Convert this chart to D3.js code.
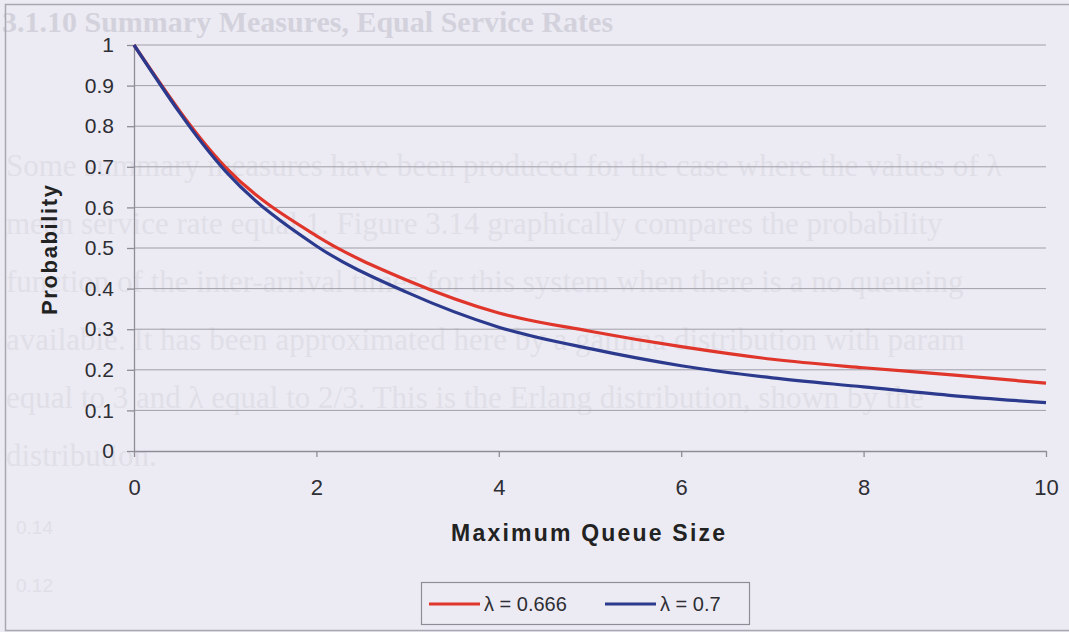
<!DOCTYPE html>
<html>
<head>
<meta charset="utf-8">
<script src="https://cdn.jsdelivr.net/npm/d3@7"></script>
<style>
  html, body { margin: 0; padding: 0; background: #ecebf3; }
  svg { display: block; }
</style>
</head>
<body>
<svg id="chart" width="1069" height="632"></svg>
<script>
// data
const queueSize = [0, 1, 2, 3, 4, 5, 6, 7, 8, 9, 10]
const probA = [1, 0.70, 0.53, 0.42, 0.34, 0.295, 0.257, 0.226, 0.205, 0.187, 0.167] // λ = 0.666
const probB = [1, 0.69, 0.505, 0.39, 0.305, 0.252, 0.21, 0.18, 0.158, 0.136, 0.119] // λ = 0.7
const xTicks = [0, 2, 4, 6, 8, 10]
const yTicks = [0, 0.1, 0.2, 0.3, 0.4, 0.5, 0.6, 0.7, 0.8, 0.9, 1]
const seriesNames = ['λ = 0.666', 'λ = 0.7']

// scanned page text showing through behind the chart
const pageLines = [
  'Some summary measures have been produced for the case where the values of λ',
  'mean service rate equal 1. Figure 3.14 graphically compares the probability',
  'function of the inter-arrival times for this system when there is a no queueing',
  'available. It has been approximated here by a gamma distribution with param',
  'equal to 3 and λ equal to 2/3. This is the Erlang distribution, shown by the',
  'distribution.'
]

const svg = d3.select('#chart')
const W = 1069, H = 632

svg.append('rect').attr('width', W).attr('height', H).attr('fill', '#ecebf3')

// faint bleed-through
svg.append('text')
  .attr('x', 2).attr('y', 32)
  .text('3.1.10 Summary Measures, Equal Service Rates')
  .style('font-family', '"Liberation Serif", serif')
  .style('font-size', '30px')
  .style('font-weight', 'bold')
  .style('fill', '#d3d2dc')

svg.append('g').selectAll('text')
  .data(pageLines)
  .join('text')
  .attr('x', 6)
  .attr('y', (d, i) => 176 + i * 58)
  .text(d => d)
  .style('font-family', '"Liberation Serif", serif')
  .style('font-size', '31px')
  .style('fill', '#e0dfe8')

svg.append('g').selectAll('text')
  .data(['0.14', '0.12'])
  .join('text')
  .attr('x', 16)
  .attr('y', (d, i) => 534 + i * 58)
  .text(d => d)
  .style('font-family', '"Liberation Sans", Arial, sans-serif')
  .style('font-size', '19px')
  .style('fill', '#e0dfe8')

// chart border
svg.append('rect')
  .attr('x', 5.5).attr('y', 4.5)
  .attr('width', W).attr('height', 626)
  .attr('fill', 'none')
  .attr('stroke', '#a9a8b2')
  .attr('stroke-width', 1.5)

const xScale = d3.scaleLinear().domain([0, 10]).range([134, 1046])
const yScale = d3.scaleLinear().domain([0, 1]).range([451, 45])

// gridlines
svg.append('g').selectAll('line')
  .data(yTicks.filter(d => d > 0))
  .join('line')
  .attr('x1', xScale(0)).attr('x2', xScale(10))
  .attr('y1', d => yScale(d)).attr('y2', d => yScale(d))
  .attr('stroke', '#a09fa9')
  .attr('stroke-width', 1)

const xAxis = d3.axisBottom(xScale).tickValues(xTicks).tickSize(6).tickPadding(22).tickSizeOuter(0)
const yAxis = d3.axisLeft(yScale).tickValues(yTicks).tickSize(7).tickPadding(13).tickSizeOuter(0)
  .tickFormat(d => d === 0 || d === 1 ? d : d3.format('.1f')(d))

const gx = svg.append('g')
  .attr('transform', `translate(0, ${yScale(0)})`)
  .call(xAxis)
const gy = svg.append('g')
  .attr('transform', `translate(${xScale(0)}, 0)`)
  .call(yAxis)

for (const g of [gx, gy]) {
  g.select('.domain').attr('stroke', '#8e8d97').attr('stroke-width', 1.3)
  g.selectAll('.tick line').attr('stroke', '#8e8d97').attr('stroke-width', 1.3)
  g.selectAll('text')
    .style('font-family', '"Liberation Sans", Arial, sans-serif')
    .style('fill', '#2e2e34')
}
gx.selectAll('text').style('font-size', '22px')
gy.selectAll('text').style('font-size', '21px')

// axis titles
svg.append('text')
  .attr('x', 588).attr('y', 541)
  .attr('text-anchor', 'middle')
  .attr('textLength', 274)
  .text('Maximum Queue Size')
  .style('font-family', '"Liberation Sans", Arial, sans-serif')
  .style('font-size', '23px')
  .style('font-weight', 'bold')
  .style('fill', '#222')

svg.append('text')
  .attr('transform', 'translate(57, 250) rotate(-90)')
  .attr('text-anchor', 'middle')
  .attr('textLength', 130)
  .text('Probability')
  .style('font-family', '"Liberation Sans", Arial, sans-serif')
  .style('font-size', '22px')
  .style('font-weight', 'bold')
  .style('fill', '#222')

// lines
const line = d3.line()
  .x(d => xScale(d[0]))
  .y(d => yScale(d[1]))
  .curve(d3.curveMonotoneX)

const colors = ['#e0352a', '#2c3a8e']
const series = [probA, probB]

svg.append('g').selectAll('path')
  .data(series)
  .join('path')
  .attr('d', vals => line(queueSize.map((q, i) => [q, vals[i]])))
  .attr('fill', 'none')
  .attr('stroke', (d, i) => colors[i])
  .attr('stroke-width', 3.2)
  .attr('stroke-linejoin', 'round')

// legend
const legend = svg.append('g')
legend.append('rect')
  .attr('x', 421.5).attr('y', 582.5)
  .attr('width', 328).attr('height', 42)
  .attr('fill', '#ecebf3')
  .attr('stroke', '#8e8d97')
  .attr('stroke-width', 1.2)

const legendX = [429, 605]
seriesNames.forEach((name, i) => {
  legend.append('line')
    .attr('x1', legendX[i]).attr('x2', legendX[i] + 51)
    .attr('y1', 604).attr('y2', 604)
    .attr('stroke', colors[i])
    .attr('stroke-width', 3.2)
  legend.append('text')
    .attr('x', legendX[i] + 55).attr('y', 611)
    .text(name)
    .style('font-family', '"Liberation Sans", Arial, sans-serif')
    .style('font-size', '20px')
    .style('fill', '#2e2e34')
})
</script>
</body>
</html>
